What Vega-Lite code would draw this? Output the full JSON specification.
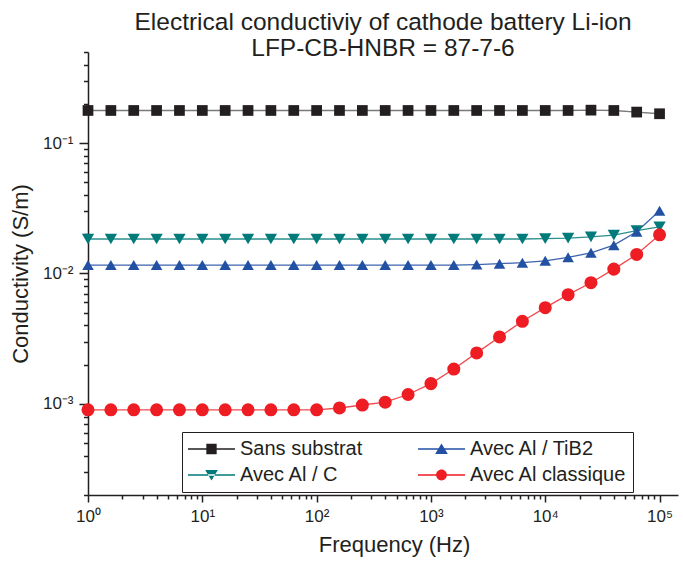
{
  "$schema": "https://vega.github.io/schema/vega-lite/v6.json",
  "width": 590,
  "height": 443,
  "autosize": {"type": "none"},
  "padding": {"left": 88, "top": 52, "right": 5, "bottom": 71},
  "background": "white",
  "config": {"view": {"stroke": null}, "font": "Liberation Sans"},
  "title": {
    "text": ["Electrical conductiviy of cathode battery Li-ion", "LFP-CB-HNBR = 87-7-6"],
    "fontSize": 24.5,
    "font": "Liberation Sans",
    "fontWeight": "normal",
    "color": "#231f20",
    "anchor": "middle",
    "lineHeight": 26,
    "offset": 4,
    "dy": 22
  },
  "data": {
    "values": [
      {"f": 1, "s": "Sans substrat", "v": 0.178},
      {"f": 1.585, "s": "Sans substrat", "v": 0.178},
      {"f": 2.512, "s": "Sans substrat", "v": 0.178},
      {"f": 3.981, "s": "Sans substrat", "v": 0.178},
      {"f": 6.31, "s": "Sans substrat", "v": 0.178},
      {"f": 10, "s": "Sans substrat", "v": 0.178},
      {"f": 15.85, "s": "Sans substrat", "v": 0.178},
      {"f": 25.12, "s": "Sans substrat", "v": 0.178},
      {"f": 39.81, "s": "Sans substrat", "v": 0.178},
      {"f": 63.1, "s": "Sans substrat", "v": 0.178},
      {"f": 100, "s": "Sans substrat", "v": 0.178},
      {"f": 158.5, "s": "Sans substrat", "v": 0.178},
      {"f": 251.2, "s": "Sans substrat", "v": 0.178},
      {"f": 398.1, "s": "Sans substrat", "v": 0.178},
      {"f": 631, "s": "Sans substrat", "v": 0.178},
      {"f": 1000, "s": "Sans substrat", "v": 0.178},
      {"f": 1585, "s": "Sans substrat", "v": 0.178},
      {"f": 2512, "s": "Sans substrat", "v": 0.178},
      {"f": 3981, "s": "Sans substrat", "v": 0.178},
      {"f": 6310, "s": "Sans substrat", "v": 0.178},
      {"f": 10000, "s": "Sans substrat", "v": 0.178},
      {"f": 15850, "s": "Sans substrat", "v": 0.178},
      {"f": 25120, "s": "Sans substrat", "v": 0.179},
      {"f": 39810, "s": "Sans substrat", "v": 0.178},
      {"f": 63100, "s": "Sans substrat", "v": 0.173},
      {"f": 100000, "s": "Sans substrat", "v": 0.168},
      {"f": 1, "s": "Avec Al / C", "v": 0.0184},
      {"f": 1.585, "s": "Avec Al / C", "v": 0.0184},
      {"f": 2.512, "s": "Avec Al / C", "v": 0.0184},
      {"f": 3.981, "s": "Avec Al / C", "v": 0.0184},
      {"f": 6.31, "s": "Avec Al / C", "v": 0.0184},
      {"f": 10, "s": "Avec Al / C", "v": 0.0184},
      {"f": 15.85, "s": "Avec Al / C", "v": 0.0184},
      {"f": 25.12, "s": "Avec Al / C", "v": 0.0184},
      {"f": 39.81, "s": "Avec Al / C", "v": 0.0184},
      {"f": 63.1, "s": "Avec Al / C", "v": 0.0184},
      {"f": 100, "s": "Avec Al / C", "v": 0.0184},
      {"f": 158.5, "s": "Avec Al / C", "v": 0.0184},
      {"f": 251.2, "s": "Avec Al / C", "v": 0.0184},
      {"f": 398.1, "s": "Avec Al / C", "v": 0.0184},
      {"f": 631, "s": "Avec Al / C", "v": 0.0184},
      {"f": 1000, "s": "Avec Al / C", "v": 0.0184},
      {"f": 1585, "s": "Avec Al / C", "v": 0.0184},
      {"f": 2512, "s": "Avec Al / C", "v": 0.0184},
      {"f": 3981, "s": "Avec Al / C", "v": 0.0184},
      {"f": 6310, "s": "Avec Al / C", "v": 0.0184},
      {"f": 10000, "s": "Avec Al / C", "v": 0.0185},
      {"f": 15850, "s": "Avec Al / C", "v": 0.0187},
      {"f": 25120, "s": "Avec Al / C", "v": 0.0191},
      {"f": 39810, "s": "Avec Al / C", "v": 0.0197},
      {"f": 63100, "s": "Avec Al / C", "v": 0.0213},
      {"f": 100000, "s": "Avec Al / C", "v": 0.0228},
      {"f": 1, "s": "Avec Al / TiB2", "v": 0.0116},
      {"f": 1.585, "s": "Avec Al / TiB2", "v": 0.0116},
      {"f": 2.512, "s": "Avec Al / TiB2", "v": 0.0116},
      {"f": 3.981, "s": "Avec Al / TiB2", "v": 0.0116},
      {"f": 6.31, "s": "Avec Al / TiB2", "v": 0.0116},
      {"f": 10, "s": "Avec Al / TiB2", "v": 0.0116},
      {"f": 15.85, "s": "Avec Al / TiB2", "v": 0.0116},
      {"f": 25.12, "s": "Avec Al / TiB2", "v": 0.0116},
      {"f": 39.81, "s": "Avec Al / TiB2", "v": 0.0116},
      {"f": 63.1, "s": "Avec Al / TiB2", "v": 0.0116},
      {"f": 100, "s": "Avec Al / TiB2", "v": 0.0116},
      {"f": 158.5, "s": "Avec Al / TiB2", "v": 0.0116},
      {"f": 251.2, "s": "Avec Al / TiB2", "v": 0.0116},
      {"f": 398.1, "s": "Avec Al / TiB2", "v": 0.0116},
      {"f": 631, "s": "Avec Al / TiB2", "v": 0.0116},
      {"f": 1000, "s": "Avec Al / TiB2", "v": 0.0116},
      {"f": 1585, "s": "Avec Al / TiB2", "v": 0.0116},
      {"f": 2512, "s": "Avec Al / TiB2", "v": 0.0117},
      {"f": 3981, "s": "Avec Al / TiB2", "v": 0.0119},
      {"f": 6310, "s": "Avec Al / TiB2", "v": 0.0121},
      {"f": 10000, "s": "Avec Al / TiB2", "v": 0.0125},
      {"f": 15850, "s": "Avec Al / TiB2", "v": 0.0133},
      {"f": 25120, "s": "Avec Al / TiB2", "v": 0.0144},
      {"f": 39810, "s": "Avec Al / TiB2", "v": 0.0165},
      {"f": 63100, "s": "Avec Al / TiB2", "v": 0.0209},
      {"f": 100000, "s": "Avec Al / TiB2", "v": 0.0303},
      {"f": 1, "s": "Avec Al classique", "v": 0.0009},
      {"f": 1.585, "s": "Avec Al classique", "v": 0.0009},
      {"f": 2.512, "s": "Avec Al classique", "v": 0.0009},
      {"f": 3.981, "s": "Avec Al classique", "v": 0.0009},
      {"f": 6.31, "s": "Avec Al classique", "v": 0.0009},
      {"f": 10, "s": "Avec Al classique", "v": 0.0009},
      {"f": 15.85, "s": "Avec Al classique", "v": 0.0009},
      {"f": 25.12, "s": "Avec Al classique", "v": 0.0009},
      {"f": 39.81, "s": "Avec Al classique", "v": 0.0009},
      {"f": 63.1, "s": "Avec Al classique", "v": 0.0009},
      {"f": 100, "s": "Avec Al classique", "v": 0.0009},
      {"f": 158.5, "s": "Avec Al classique", "v": 0.00093},
      {"f": 251.2, "s": "Avec Al classique", "v": 0.00098},
      {"f": 398.1, "s": "Avec Al classique", "v": 0.00103},
      {"f": 631, "s": "Avec Al classique", "v": 0.00118},
      {"f": 1000, "s": "Avec Al classique", "v": 0.00143},
      {"f": 1585, "s": "Avec Al classique", "v": 0.00185},
      {"f": 2512, "s": "Avec Al classique", "v": 0.00246},
      {"f": 3981, "s": "Avec Al classique", "v": 0.00326},
      {"f": 6310, "s": "Avec Al classique", "v": 0.0043},
      {"f": 10000, "s": "Avec Al classique", "v": 0.00547},
      {"f": 15850, "s": "Avec Al classique", "v": 0.00688},
      {"f": 25120, "s": "Avec Al classique", "v": 0.0085},
      {"f": 39810, "s": "Avec Al classique", "v": 0.0108},
      {"f": 63100, "s": "Avec Al classique", "v": 0.014},
      {"f": 100000, "s": "Avec Al classique", "v": 0.0198}
    ]
  },
  "encoding": {
    "x": {
      "field": "f",
      "type": "quantitative",
      "scale": {"type": "log", "domain": [1, 145000], "nice": false},
      "axis": {
        "orient": "bottom",
        "values": [1,2,3,4,5,6,7,8,9,10,20,30,40,50,60,70,80,90,100,200,300,400,500,600,700,800,900,1000,2000,3000,4000,5000,6000,7000,8000,9000,10000,20000,30000,40000,50000,60000,70000,80000,90000,100000],
        "labelExpr": "datum.value === 1 ? '10⁰' : datum.value === 10 ? '10¹' : datum.value === 100 ? '10²' : datum.value === 1000 ? '10³' : datum.value === 10000 ? '10⁴' : datum.value === 100000 ? '10⁵' : ''",
        "tickSize": {"condition": {"test": "indexof([1,10,100,1000,10000,100000], datum.value) >= 0", "value": 7}, "value": 4},
        "tickWidth": 1.5,
        "tickColor": "#231f20",
        "domainColor": "#231f20",
        "domainWidth": 1.5,
        "grid": false,
        "labelFont": "Liberation Sans",
        "labelFontSize": 17,
        "labelColor": "#231f20",
        "labelPadding": 6,
        "labelFlush": false,
        "labelOverlap": false,
        "labelBound": false,
        "title": "Frequency (Hz)",
        "titleFont": "Liberation Sans",
        "titleFontSize": 22,
        "titleFontWeight": "normal",
        "titleColor": "#231f20",
        "titlePadding": 10,
        "titleX": 306
      }
    },
    "y": {
      "field": "v",
      "type": "quantitative",
      "scale": {"type": "log", "domain": [0.0002, 0.5], "nice": false},
      "axis": {
        "orient": "left",
        "values": [0.0002,0.0003,0.0004,0.0005,0.0006,0.0007,0.0008,0.0009,0.001,0.002,0.003,0.004,0.005,0.006,0.007,0.008,0.009,0.01,0.02,0.03,0.04,0.05,0.06,0.07,0.08,0.09,0.1,0.2,0.3,0.4,0.5],
        "labelExpr": "datum.value === 0.1 ? '10⁻¹' : datum.value === 0.01 ? '10⁻²' : datum.value === 0.001 ? '10⁻³' : ''",
        "tickSize": {"condition": {"test": "indexof([0.1,0.01,0.001], datum.value) >= 0", "value": 9}, "value": 4.5},
        "tickWidth": 1.5,
        "tickColor": "#231f20",
        "domainColor": "#231f20",
        "domainWidth": 1.5,
        "grid": false,
        "labelFont": "Liberation Sans",
        "labelFontSize": 17,
        "labelColor": "#231f20",
        "labelPadding": 6,
        "labelFlush": false,
        "labelOverlap": false,
        "labelBound": false,
        "title": "Conductivity (S/m)",
        "titleFont": "Liberation Sans",
        "titleFontSize": 22,
        "titleFontWeight": "normal",
        "titleColor": "#231f20",
        "titlePadding": 10
      }
    }
  },
  "layer": [
    {
      "mark": {"type": "line", "strokeWidth": 1.3},
      "encoding": {
        "color": {
          "field": "s",
          "type": "nominal",
          "scale": {"domain": ["Sans substrat", "Avec Al / TiB2", "Avec Al / C", "Avec Al classique"], "range": ["#7a7a7a", "#3c63ad", "#2a8f8c", "#f04a4f"]},
          "legend": null
        }
      }
    },
    {
      "mark": {"type": "point", "filled": true, "opacity": 1, "strokeWidth": 0},
      "encoding": {
        "color": {
          "field": "s",
          "type": "nominal",
          "scale": {"domain": ["Sans substrat", "Avec Al / TiB2", "Avec Al / C", "Avec Al classique"], "range": ["#231f20", "#2251a3", "#007b7a", "#ee1d24"]},
          "legend": null
        },
        "shape": {
          "field": "s",
          "type": "nominal",
          "scale": {"domain": ["Sans substrat", "Avec Al / TiB2", "Avec Al / C", "Avec Al classique"], "range": ["square", "triangle-up", "triangle-down", "circle"]},
          "legend": null
        },
        "size": {
          "field": "s",
          "type": "ordinal",
          "scale": {"domain": ["Sans substrat", "Avec Al / TiB2", "Avec Al / C", "Avec Al classique"], "range": [115, 170, 170, 140]},
          "legend": null
        }
      }
    },
    {
      "transform": [{"filter": "false"}],
      "mark": {"type": "point", "filled": true, "opacity": 1},
      "encoding": {
        "color": {
          "field": "s",
          "type": "nominal",
          "scale": {"domain": ["Sans substrat", "Avec Al / C", "Avec Al / TiB2", "Avec Al classique"], "range": ["#231f20", "#007b7a", "#2251a3", "#ee1d24"]},
          "legend": {
            "title": null, "orient": "none", "legendX": 94, "legendY": 380, "direction": "vertical", "columns": 2,
            "columnPadding": 55, "rowPadding": 4, "clipHeight": 22, "symbolSize": 2209, "symbolStrokeWidth": 0,
            "labelFont": "Liberation Sans", "labelFontSize": 20, "labelColor": "#231f20", "labelOffset": 5,
            "padding": 6, "strokeColor": "#231f20", "fillColor": "white", "labelLimit": 300
          }
        },
        "shape": {
          "field": "s",
          "type": "nominal",
          "scale": {
            "domain": ["Sans substrat", "Avec Al / C", "Avec Al / TiB2", "Avec Al classique"],
            "range": [
              "M-1,-0.027H1V0.027H-1Z M-0.22,-0.22H0.22V0.22H-0.22Z",
              "M-1,-0.027H1V0.027H-1Z M0,0.23L0.27,-0.21H-0.27Z",
              "M-1,-0.027H1V0.027H-1Z M0,-0.23L0.27,0.21H-0.27Z",
              "M-1,-0.027H1V0.027H-1Z M0.23,0A0.23,0.23,0,1,1,-0.23,0A0.23,0.23,0,1,1,0.23,0Z"
            ]
          },
          "legend": {
            "title": null, "orient": "none", "legendX": 94, "legendY": 380, "direction": "vertical", "columns": 2,
            "columnPadding": 55, "rowPadding": 4, "clipHeight": 22, "symbolSize": 2209, "symbolStrokeWidth": 0,
            "labelFont": "Liberation Sans", "labelFontSize": 20, "labelColor": "#231f20", "labelOffset": 5,
            "padding": 6, "strokeColor": "#231f20", "fillColor": "white", "labelLimit": 300
          }
        }
      }
    }
  ],
  "resolve": {"scale": {"color": "independent", "shape": "independent", "size": "independent"}}
}
